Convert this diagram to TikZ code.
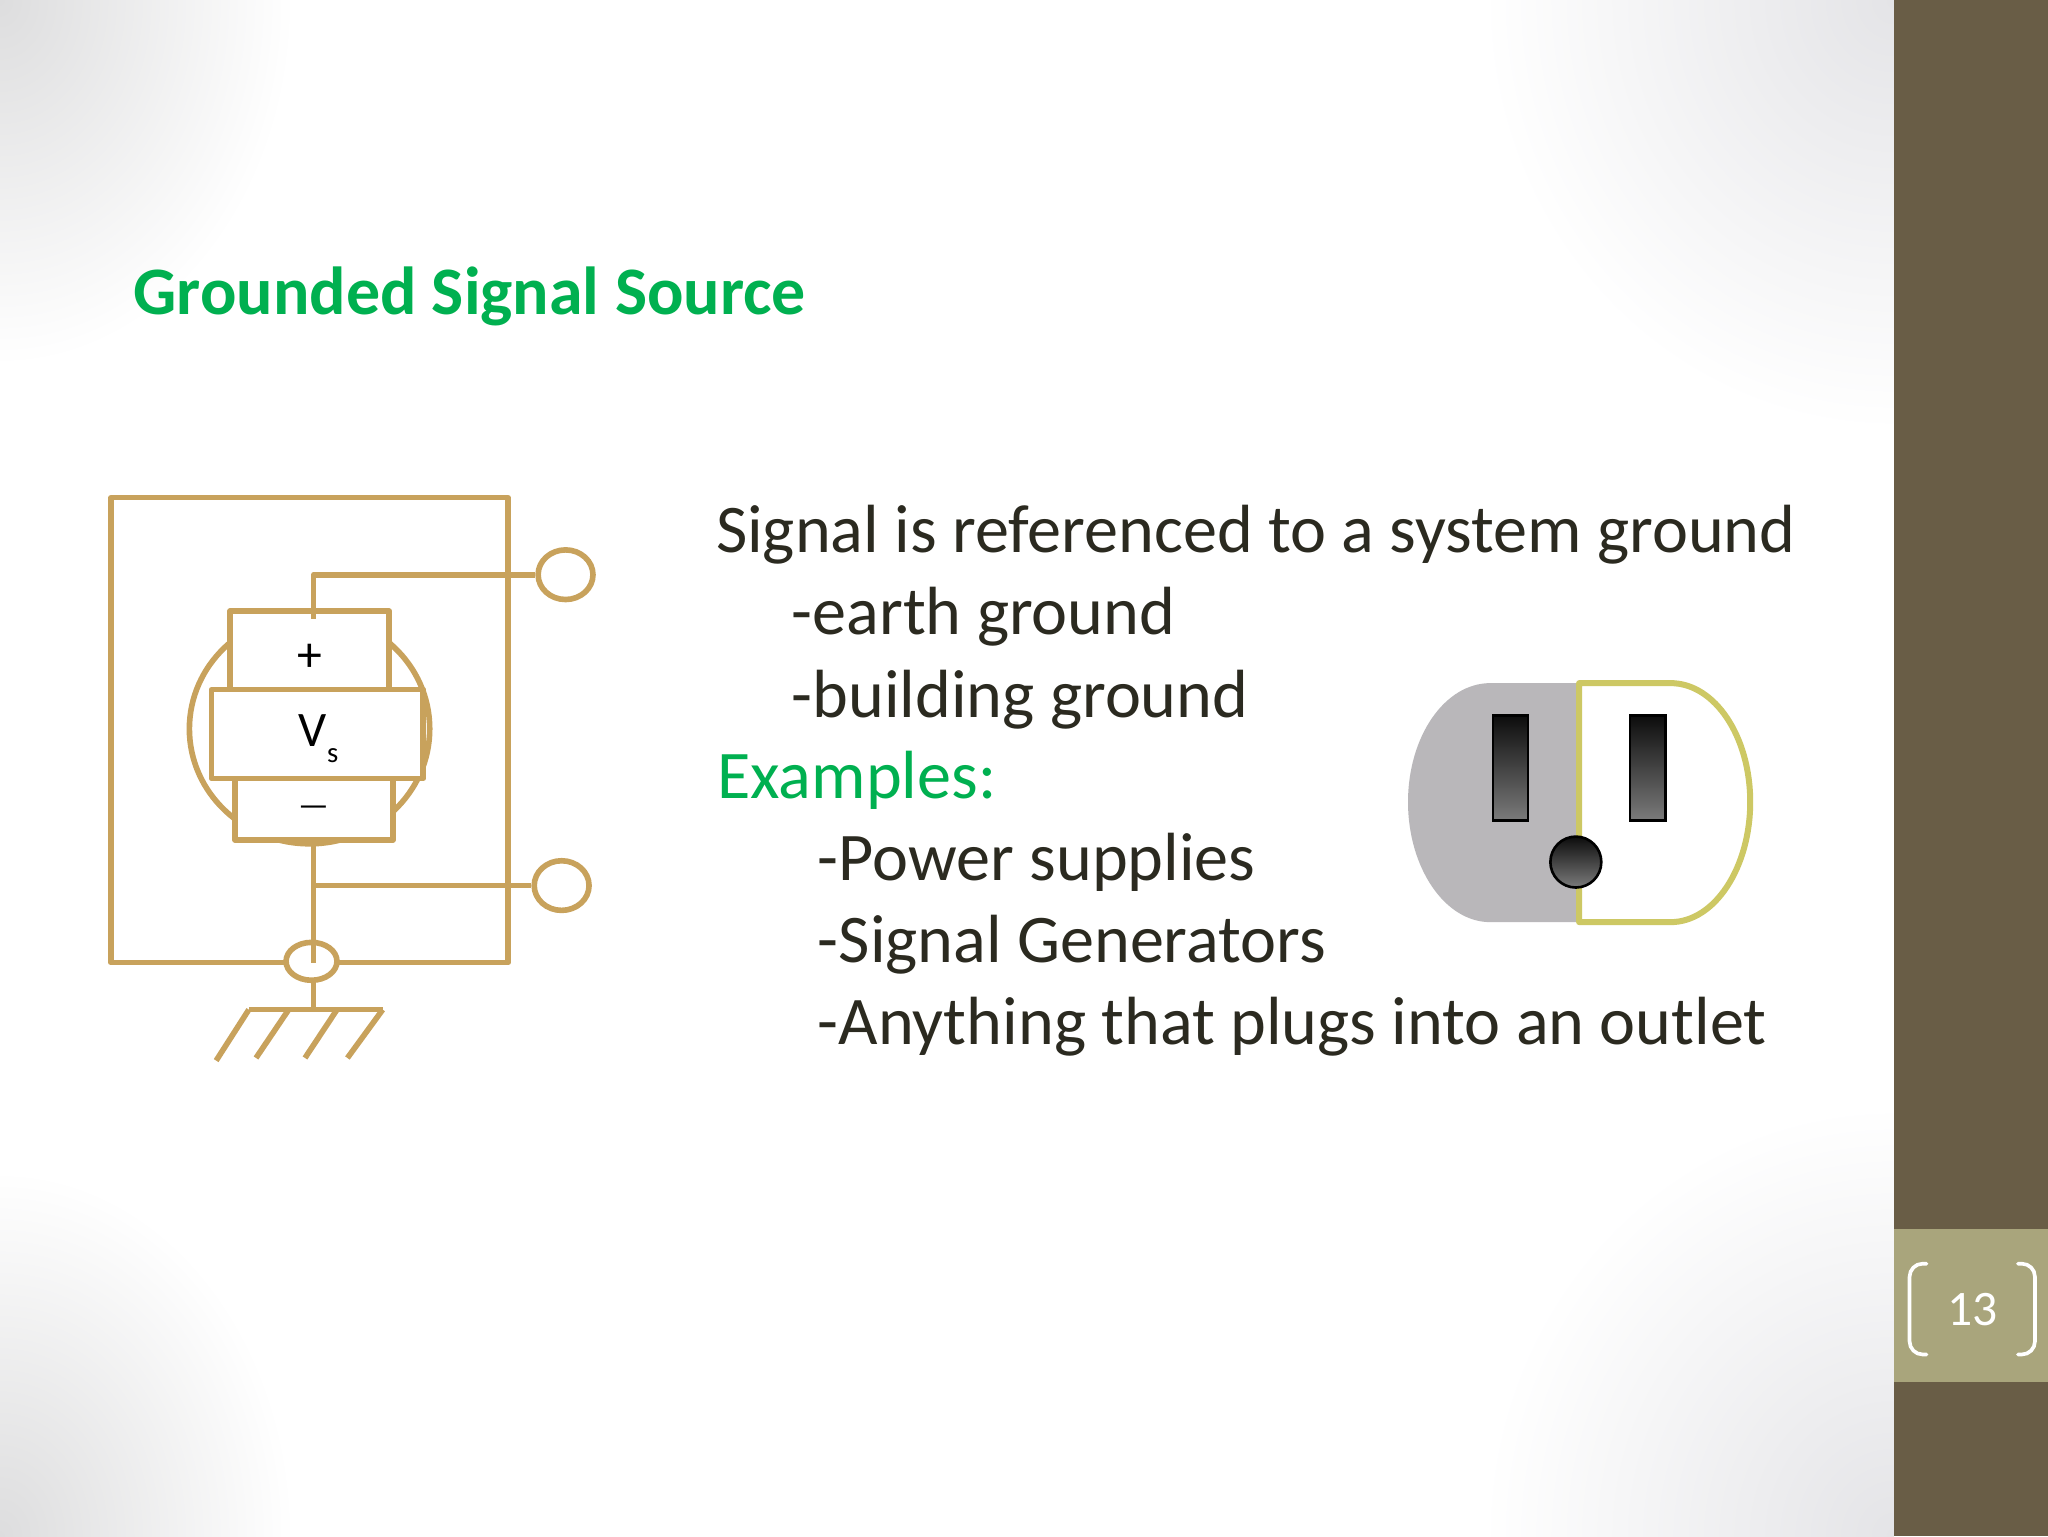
\documentclass[tikz,border=0pt]{standalone}
\usepackage{fontspec}
\setmainfont{Carlito}
\usepackage{xcolor}
\usetikzlibrary{shapes.geometric}
\definecolor{wirecol}{RGB}{200,162,92}
\definecolor{greencol}{RGB}{0,176,80}
\definecolor{inkcol}{RGB}{43,42,32}
\definecolor{sidecol}{RGB}{105,93,70}
\definecolor{tabcol}{RGB}{169,165,124}
\definecolor{platecol}{RGB}{185,183,186}
\definecolor{rimcol}{RGB}{205,200,100}
\definecolor{cornerA}{RGB}{221,221,222}
\definecolor{cornerB}{RGB}{228,228,231}
\pgfdeclareradialshading{fadeA}{\pgfpoint{0bp}{0bp}}{color(0bp)=(cornerA); color(25bp)=(white); color(50bp)=(white)}
\pgfdeclareradialshading{fadeB}{\pgfpoint{0bp}{0bp}}{color(0bp)=(cornerB); color(25bp)=(white); color(50bp)=(white)}
\tikzset{
  wire/.style={draw=wirecol,line width=4.3pt,line join=round},
  wirebox/.style={wire,fill=white,rectangle,inner sep=0pt},
  terminal/.style={wire,fill=white,ellipse,inner sep=0pt,minimum width=42pt,minimum height=38pt},
  slot/.style={draw=black,line width=2pt,top color=black!95,bottom color=black!52},
  bodytext/.style={anchor=base west,inner sep=0pt,text=inkcol,font=\fontsize{52.2}{60}\selectfont},
  signtext/.style={inner sep=0pt,text=black,font=\fontsize{38}{44}\selectfont}
}

\begin{document}
\begin{tikzpicture}[x=1pt,y=-1pt]
        \useasboundingbox (0,0) rectangle (1568,1176);
        \fill[white] (0,0) rectangle (1450,1176);
        \begin{scope}
            \clip (0,0) rectangle (1450,1176);
            \shade[shading=fadeA] (-225,-280) rectangle (225,280);
            \shade[shading=fadeA] (-225,896) rectangle (225,1456);
            \shade[shading=fadeB] (1135,-330) rectangle (1765,330);
            \shade[shading=fadeB] (1135,846) rectangle (1765,1506);
        \end{scope}
        \fill[sidecol] (1450,0) rectangle (1568,1176);
        \fill[tabcol] (1450,941) rectangle (1568,1058);

        \coordinate (BoxA) at (85,381);
        \coordinate (BoxB) at (389,737);
        \coordinate (TopJoin) at (240,440);
        \coordinate (TopEnd) at (240,474);
        \coordinate (LowStart) at (240,647);
        \coordinate (LowJoin) at (240,678);
        \coordinate (LowEnd) at (240,737);
        \coordinate (GndJoin) at (240,773);
        \coordinate (GndA) at (190.5,773);
        \coordinate (GndB) at (293,773);
        \coordinate (GndC) at (221,773);
        \coordinate (GndD) at (258,773);

        \draw[wire] (BoxA) rectangle (BoxB);

        \node[terminal] (termtop) at (433,440) {};
        \node[terminal] (termlow) at (430,678) {};
        \draw[wire] (TopEnd) -- (TopJoin) -- (termtop.west);

        \node[wire,ellipse,inner sep=0pt,minimum width=184pt,minimum height=176pt] (source) at (237,558) {};
        \node[wirebox,minimum width=122pt,minimum height=60pt] (plusbox) at (237,498) {};
        \node[wirebox,minimum width=121pt,minimum height=48pt] (minusbox) at (240.5,619) {};
        \node[wirebox,minimum width=162pt,minimum height=68pt] (vsbox) at (243,562) {};
        \draw[wire,line cap=butt] (plusbox.north -| TopEnd) -- (TopEnd);

        \node[signtext] (plustext) at (237,504) {+};
        \node[signtext,font=\fontsize{26}{26}\selectfont] (minustext) at (240,621) {—};
        \node[signtext] (vstext) at (244,565.5) {V\raisebox{-.32em}{\fontsize{22}{22}\selectfont s}};

        \draw[wire] (LowJoin) -- (termlow.west);
        \node[wire,fill=white,ellipse,inner sep=0pt,minimum width=39pt,minimum height=29pt] (gndring) at (238.5,736) {};
        \draw[wire] (LowStart) -- (LowEnd);
        \draw[wire] (gndring.south -| GndJoin) -- (GndJoin);
        \draw[wire] (GndA) -- (GndB);
        \draw[wire] (GndA) -- (165.5,812);
        \draw[wire] (GndC) -- (196,810);
        \draw[wire] (GndD) -- (233.5,810);
        \draw[wire] (GndB) -- (266,810);

        \node[anchor=base west,inner sep=0pt,text=greencol,font=\fontsize{52}{60}\selectfont\bfseries] (title) at (102,241) {Grounded Signal Source};

        \node[bodytext] (lineA) at (548,423) {Signal is referenced to a system ground};
        \node[bodytext] (lineB) at (606,486) {-earth ground};
        \node[bodytext] (lineC) at (606,549) {-building ground};
        \node[bodytext,text=greencol] (lineD) at (549,611.5) {Examples:};
        \node[bodytext] (lineE) at (626,674) {-Power supplies};
        \node[bodytext] (lineF) at (626,737) {-Signal Generators};
        \node[bodytext] (lineG) at (626,800) {-Anything that plugs into an outlet};

        \fill[platecol] (1209,523) -- (1141,523) .. controls (1106,523) and (1078,564) .. (1078,614) .. controls (1078,664) and (1106,706) .. (1141,706) -- (1209,706) -- cycle;
        \draw[draw=rimcol,line width=4.6pt,line join=round,fill=white] (1209,523) -- (1279,523) .. controls (1313,523) and (1340,564) .. (1340,614) .. controls (1340,664) and (1313,706) .. (1279,706) -- (1209,706) -- cycle;
        \draw[slot] (1143,548) rectangle (1170,628);
        \draw[slot] (1248,548) rectangle (1275,628);
        \node[circle,slot,inner sep=0pt,minimum size=39pt] (hole) at (1206.5,660) {};

        \draw[white,line width=2.8pt,line cap=round,rounded corners=10pt] (1475,967.5) -- (1462,967.5) -- (1462,1037) -- (1475,1037);
        \draw[white,line width=2.8pt,line cap=round,rounded corners=10pt] (1545,967.5) -- (1558,967.5) -- (1558,1037) -- (1545,1037);
        \node[inner sep=0pt,text=white,font=\fontsize{38}{44}\selectfont] (pagenum) at (1510,1003) {13};
    \end{tikzpicture}
\end{document}
